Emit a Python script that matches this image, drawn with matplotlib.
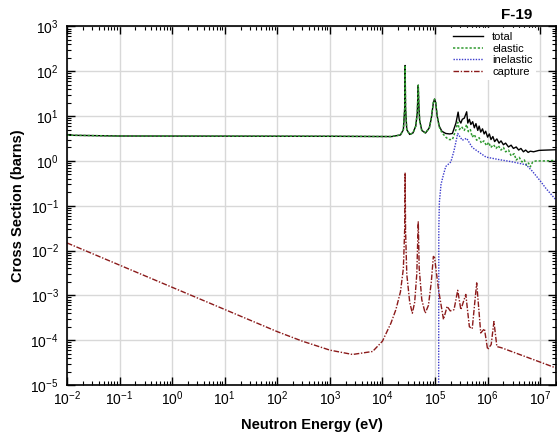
import numpy as np
import matplotlib
matplotlib.use('Agg')
import matplotlib.pyplot as plt
from matplotlib.ticker import LogLocator, NullFormatter

plt.rcParams['font.family'] = ['Liberation Sans', 'DejaVu Sans']
plt.rcParams['mathtext.fontset'] = 'custom'
plt.rcParams['mathtext.rm'] = 'Liberation Sans'
plt.rcParams['mathtext.it'] = 'Liberation Sans'

# total cross section (eV, barns)
e_total = [1e-2, 0.1, 1e3, 1.5e4, 2.2e4, 2.5e4, 2.65e4, 2.7e4, 2.75e4, 2.9e4, 3.3e4,
           3.8e4, 4.3e4, 4.6e4, 4.8e4, 4.9e4, 5.1e4, 5.6e4, 6.6e4, 7.8e4, 8.5e4,
           9.3e4, 9.8e4, 1.03e5, 1.1e5, 1.2e5, 1.35e5, 1.6e5, 1.9e5, 2.14e5, 2.5e5,
           2.75e5, 2.9e5, 3.1e5, 3.3e5, 3.6e5, 4.0e5, 4.2e5, 4.5e5, 4.8e5, 5.2e5,
           5.6e5, 6.0e5, 6.5e5, 6.9e5, 7.4e5, 8.0e5, 8.6e5, 9.2e5, 1.0e6, 1.08e6,
           1.16e6, 1.26e6, 1.36e6, 1.5e6, 1.65e6, 1.8e6, 2.0e6, 2.2e6, 2.5e6, 2.8e6,
           3.1e6, 3.5e6, 3.9e6, 4.3e6, 4.8e6, 5.3e6, 5.9e6, 6.5e6, 7.5e6, 9.5e6,
           1.2e7, 2e7]
s_total = [3.75, 3.6, 3.55, 3.5, 3.8, 5, 15, 135, 15, 5, 3.9,
           4.2, 6, 12, 49, 20, 8, 4.8, 4.2, 5.5, 9,
           20, 24, 20, 10, 6, 4.6, 4.1, 4.0, 4.1, 7,
           12.3, 8, 7, 8.5, 9, 12.5, 7, 8.5, 6.5, 7.5,
           5.5, 6.8, 4.8, 6.0, 4.4, 5.2, 4.0, 4.6, 3.4, 4.0,
           3.0, 3.5, 2.7, 3.1, 2.5, 2.8, 2.3, 2.5, 2.05, 2.25,
           1.9, 2.05, 1.75, 1.9, 1.6, 1.75, 1.55, 1.65, 1.6, 1.72,
           1.74, 1.78]

# elastic
e_elastic = [1e-2, 0.1, 1e3, 1.5e4, 2.2e4, 2.5e4, 2.65e4, 2.7e4, 2.75e4, 2.9e4, 3.3e4,
             3.8e4, 4.3e4, 4.6e4, 4.8e4, 4.9e4, 5.1e4, 5.6e4, 6.6e4, 7.8e4, 8.5e4,
             9.3e4, 9.8e4, 1.03e5, 1.1e5, 1.2e5, 1.35e5, 1.6e5, 1.82e5, 2.14e5, 2.5e5,
             2.7e5, 2.9e5, 3.2e5, 3.6e5, 4.0e5, 4.3e5, 4.7e5, 5.1e5, 5.6e5, 6.2e5,
             6.9e5, 7.6e5, 8.5e5, 9.5e5, 1.05e6, 1.15e6, 1.3e6, 1.45e6, 1.6e6, 1.8e6,
             2.0e6, 2.2e6, 2.5e6, 2.8e6, 3.2e6, 3.5e6, 4.0e6, 4.5e6, 5.0e6, 5.5e6,
             6.0e6, 6.5e6, 7.2e6, 8.3e6, 1.3e7, 2e7]
s_elastic = [3.75, 3.6, 3.55, 3.5, 3.8, 5, 15, 135, 15, 5, 3.9,
             4.2, 6, 12, 49, 20, 8, 4.8, 4.2, 5.5, 9,
             20, 24, 20, 10, 5.8, 4.3, 3.4, 3.0, 3.0, 5.0,
             7.3, 5.0, 5.8, 4.8, 6.5, 4.5, 5.0, 3.4, 3.9, 2.9,
             3.3, 2.5, 2.8, 2.2, 2.6, 2.0, 2.3, 1.9, 2.2, 1.75,
             2.0, 1.6, 1.75, 1.3, 1.45, 1.05, 1.2, 0.95, 1.05, 0.8,
             0.9, 0.74, 0.95, 1.0, 1.0, 1.03]

# inelastic
e_inelastic = [1.17e5, 1.18e5, 1.21e5, 1.3e5, 1.45e5, 1.6e5, 2.0e5, 2.3e5, 2.7e5, 3.3e5,
               4.0e5, 5.1e5, 9.3e5, 1.66e6, 3.0e6, 5.4e6, 7.0e6, 1.0e7, 1.3e7, 2e7]
s_inelastic = [1e-6, 0.03, 0.12, 0.3, 0.5, 0.75, 0.95, 1.7, 4.1, 2.9,
               3.2, 2.0, 1.22, 1.07, 0.95, 0.82, 0.6, 0.36, 0.24, 0.135]

# capture
e_capture = [1e-2, 1e2, 3e2, 1e3, 2.7e3, 6.5e3, 1e4, 1.45e4, 1.8e4, 2.2e4, 2.5e4, 2.65e4,
             2.7e4, 2.75e4, 2.9e4, 3.3e4, 3.7e4, 4.1e4, 4.5e4, 4.8e4, 5.0e4, 5.6e4,
             6.5e4, 7.5e4, 8.5e4, 9.3e4, 9.8e4, 1.07e5, 1.17e5, 1.45e5, 1.7e5, 1.95e5,
             2.3e5, 2.7e5, 3.1e5, 3.85e5, 4.5e5, 5.1e5, 6.2e5, 7.4e5, 8.7e5, 1.0e6,
             1.17e6, 1.32e6, 1.5e6, 1.82e6, 2e7]
s_capture = [0.0148, 1.55e-4, 9.5e-5, 6e-5, 4.8e-5, 5.6e-5, 9.5e-5, 2.4e-4, 4.8e-4, 1.2e-3, 4e-3, 0.03,
             0.55, 0.03, 3e-3, 7e-4, 4e-4, 7e-4, 3e-3, 0.045, 4e-3, 8e-4,
             4e-4, 6e-4, 2e-3, 7.4e-3, 7e-3, 3e-3, 1.3e-3, 2.9e-4, 5.7e-4, 4.5e-4,
             4.8e-4, 1.3e-3, 4.8e-4, 1.05e-3, 2e-4, 1.8e-4, 1.9e-3, 1.45e-4, 1.8e-4, 6.2e-5,
             8e-5, 2.6e-4, 7.2e-5, 6.8e-5, 2.4e-5]

x_decades = list(range(-2, 8))
y_decades = list(range(-5, 4))

fig = plt.figure(figsize=(5.57, 4.36), dpi=100)
ax = fig.add_axes([67/557, 1-385/436, (556-67)/557, (385-26.5)/436])

ax.plot(e_total, s_total, color='black', lw=1.0, label='total')
ax.plot(e_elastic, s_elastic, color='#2f9a2f', lw=1.1, ls=(0, (1.5, 1.2)), label='elastic')
ax.plot(e_inelastic, s_inelastic, color='#3a3acc', lw=1.0, ls=(0, (1, 1)), label='inelastic')
ax.plot(e_capture, s_capture, color='#8b1a1a', lw=1.0, ls=(0, (4, 1.2, 1, 1.2)), label='capture')

ax.set_xscale('log')
ax.set_yscale('log')
ax.set_xlim(1e-2, 2e7)
ax.set_ylim(1e-5, 1e3)
ax.set_xticks([10.0**k for k in x_decades], [r'$10^{%d}$' % k for k in x_decades])
ax.set_yticks([10.0**k for k in y_decades], [r'$10^{%d}$' % k for k in y_decades])
ax.xaxis.set_minor_locator(LogLocator(base=10, subs=np.arange(2, 10), numticks=50))
ax.yaxis.set_minor_locator(LogLocator(base=10, subs=np.arange(2, 10), numticks=50))
ax.xaxis.set_minor_formatter(NullFormatter())
ax.yaxis.set_minor_formatter(NullFormatter())
ax.grid(True, which='major', color='#d8d8d8', lw=1.0)
ax.set_axisbelow(True)
ax.tick_params(which='both', direction='in', top=True, right=True, labelsize=10)
ax.tick_params(axis='y', which='major', pad=6)
ax.tick_params(which='major', length=6, width=1)
ax.tick_params(which='minor', length=3, width=0.8)
for sp in ax.spines.values():
    sp.set_linewidth(1.2)

ax.set_xlabel('Neutron Energy (eV)', fontsize=10.5, fontweight='bold', labelpad=7)
ax.set_ylabel('Cross Section (barns)', fontsize=10.5, fontweight='bold', labelpad=4)

leg = ax.legend(loc='upper left', bbox_to_anchor=(0.772, 1.01), fontsize=8, handlelength=2.7,
                handletextpad=0.8, labelspacing=0.16, borderpad=0.3, frameon=True,
                fancybox=False, edgecolor='none', framealpha=1.0)

fig.text(0.928, 0.966, 'F-19', ha='center', va='center', fontsize=11, fontweight='bold')

fig.savefig('out.png', dpi=100)
